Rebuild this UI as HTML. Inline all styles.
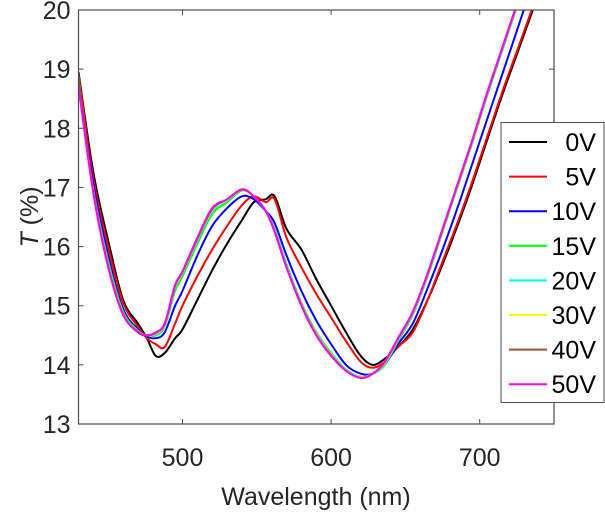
<!DOCTYPE html>
<html><head><meta charset="utf-8"><style>
body{margin:0;background:#fff;}
svg{display:block;font-family:"Liberation Sans",Arial,sans-serif;}
</style></head><body>
<svg id="chart" width="605" height="513">
<defs><clipPath id="clip"><rect x="78.5" y="10" width="475.5" height="414"/></clipPath></defs>
<g id="series" clip-path="url(#clip)"></g>
<g id="axes"></g>
<g id="legend"></g>
<text x="316" y="505" text-anchor="middle" font-size="25" fill="#262626">Wavelength (nm)</text>
<text transform="translate(38,217) rotate(-90)" text-anchor="middle" font-size="25" fill="#262626"><tspan font-style="italic">T</tspan> (%)</text>
</svg>
<script>
const wavelengths=[430,440,450,460,470,476,482,488,495,500,510,520,530,540,548,556,562,570,580,590,600,610,620,628,636,645,655,665,675,685,695,705,715,725,735,745];
const v0=[18.95,17.25,16.1,15.1,14.7,14.45,14.15,14.2,14.45,14.6,15.1,15.6,16.05,16.45,16.75,16.8,16.85,16.3,15.95,15.45,15.0,14.55,14.15,14.0,14.1,14.3,14.6,15.1,15.7,16.35,17.05,17.8,18.55,19.25,19.95,20.65];
const v5=[18.9,17.15,16.0,15.05,14.65,14.45,14.35,14.3,14.7,15.0,15.5,15.95,16.35,16.7,16.85,16.75,16.8,16.15,15.65,15.2,14.8,14.4,14.05,13.95,14.05,14.3,14.55,15.1,15.75,16.4,17.1,17.85,18.6,19.3,20.0,20.7];
const v10=[18.8,17.05,15.85,14.95,14.6,14.48,14.45,14.55,15.0,15.25,15.85,16.35,16.65,16.85,16.8,16.6,16.4,15.85,15.25,14.75,14.35,14.0,13.85,13.85,14.0,14.35,14.7,15.3,15.95,16.65,17.4,18.15,18.9,19.65,20.4,21.1];
const v15=[18.75,16.95,15.75,14.9,14.58,14.5,14.5,14.65,15.25,15.5,16.05,16.55,16.75,16.95,16.85,16.6,16.3,15.7,15.05,14.55,14.2,13.92,13.8,13.85,14.0,14.4,14.85,15.5,16.25,17.0,17.75,18.55,19.3,20.05,20.8,21.5];
const v20=[18.72,16.93,15.7,14.87,14.57,14.5,14.52,14.67,15.3,15.55,16.1,16.6,16.78,16.96,16.85,16.6,16.28,15.68,15.03,14.53,14.18,13.91,13.79,13.85,14.02,14.42,14.87,15.52,16.27,17.02,17.77,18.57,19.32,20.07,20.82,21.52];
const v30=[18.72,16.92,15.68,14.86,14.56,14.5,14.53,14.68,15.32,15.56,16.12,16.62,16.79,16.96,16.85,16.6,16.27,15.66,15.02,14.52,14.17,13.9,13.79,13.85,14.03,14.43,14.88,15.53,16.28,17.03,17.78,18.58,19.33,20.08,20.83,21.55];
const v40=[18.9,16.92,15.67,14.85,14.56,14.5,14.54,14.69,15.33,15.57,16.13,16.63,16.8,16.96,16.85,16.6,16.26,15.65,15.01,14.51,14.16,13.9,13.78,13.85,14.04,14.44,14.89,15.54,16.29,17.04,17.79,18.59,19.34,20.09,20.84,21.57];
const v50=[18.7,16.9,15.65,14.85,14.55,14.5,14.55,14.7,15.35,15.58,16.15,16.65,16.8,16.97,16.85,16.6,16.25,15.65,15.0,14.5,14.15,13.9,13.78,13.85,14.05,14.45,14.9,15.55,16.3,17.05,17.8,18.6,19.35,20.1,20.85,21.6];
const seriesLabels=["0V","5V","10V","15V","20V","30V","40V","50V"];
const seriesColors=["#000000","#ff0000","#0000ff","#00ff00","#00ffff","#ffff00","#a0522d","#ff00ff"];
const seriesValues=[v0,v5,v10,v15,v20,v30,v40,v50];
const xTicks=[500,600,700];
const yTicks=[13,14,15,16,17,18,19,20];
const NS="http://www.w3.org/2000/svg";
const L=78.5,R=554,T=10,B=424,xMin=430,xMax=750,yMin=13,yMax=20;
const xs=v=>L+(v-xMin)/(xMax-xMin)*(R-L);
const ys=v=>B-(v-yMin)/(yMax-yMin)*(B-T);
function mk(tag,attrs,parent){const e=document.createElementNS(NS,tag);for(const k in attrs)e.setAttribute(k,attrs[k]);parent.appendChild(e);return e;}
function smoothPath(pts){
  let d='M'+pts[0][0].toFixed(1)+','+pts[0][1].toFixed(1);
  for(let i=0;i<pts.length-1;i++){
    const p0=pts[Math.max(0,i-1)],p1=pts[i],p2=pts[i+1],p3=pts[Math.min(pts.length-1,i+2)];
    const t=0.5/3;
    const c1=[p1[0]+(p2[0]-p0[0])*t,p1[1]+(p2[1]-p0[1])*t];
    const c2=[p2[0]-(p3[0]-p1[0])*t,p2[1]-(p3[1]-p1[1])*t];
    d+='C'+c1[0].toFixed(1)+','+c1[1].toFixed(1)+' '+c2[0].toFixed(1)+','+c2[1].toFixed(1)+' '+p2[0].toFixed(1)+','+p2[1].toFixed(1);
  }
  return d;
}
const sg=document.getElementById('series');
seriesValues.forEach((vals,i)=>{
  const pts=vals.map((v,j)=>[xs(wavelengths[j]),ys(v)]);
  const p=mk('path',{d:smoothPath(pts),fill:'none',stroke:seriesColors[i],'stroke-width':2,'stroke-linejoin':'round'},sg);
  
  
});
const ax=document.getElementById('axes');
const frame=mk('rect',{x:L,y:T,width:R-L,height:B-T,fill:'none',stroke:'#4d4d4d','stroke-width':1.2},ax);


xTicks.forEach(t=>{
  const x=xs(t);
  mk('line',{x1:x,x2:x,y1:B,y2:B-5,stroke:'#4d4d4d'},ax);
  mk('line',{x1:x,x2:x,y1:T,y2:T+5,stroke:'#4d4d4d'},ax);
  const tx=mk('text',{x:x,y:B+42,'text-anchor':'middle','font-size':25,fill:'#262626'},ax);
  tx.textContent=t;
  
  
});
yTicks.forEach(t=>{
  const y=ys(t);
  mk('line',{x1:L,x2:L+5,y1:y,y2:y,stroke:'#4d4d4d'},ax);
  mk('line',{x1:R,x2:R-5,y1:y,y2:y,stroke:'#4d4d4d'},ax);
  const tx=mk('text',{x:L-8,y:y+9,'text-anchor':'end','font-size':25,fill:'#262626'},ax);
  tx.textContent=t;
  
  
});
const lg=document.getElementById('legend');
const box=mk('rect',{x:501,y:122.5,width:103,height:280,fill:'#fff',stroke:'#4d4d4d','stroke-width':1},lg);


seriesLabels.forEach((lab,i)=>{
  const y=142+i*34.6;
  const g=mk('g',{},lg);
  
  
  mk('line',{x1:509,x2:547,y1:y,y2:y,stroke:seriesColors[i],'stroke-width':2},g);
  const tx=mk('text',{x:596,y:y+9,'text-anchor':'end','font-size':25,fill:'#000'},g);
  tx.textContent=lab;
});
</script>
</body></html>
